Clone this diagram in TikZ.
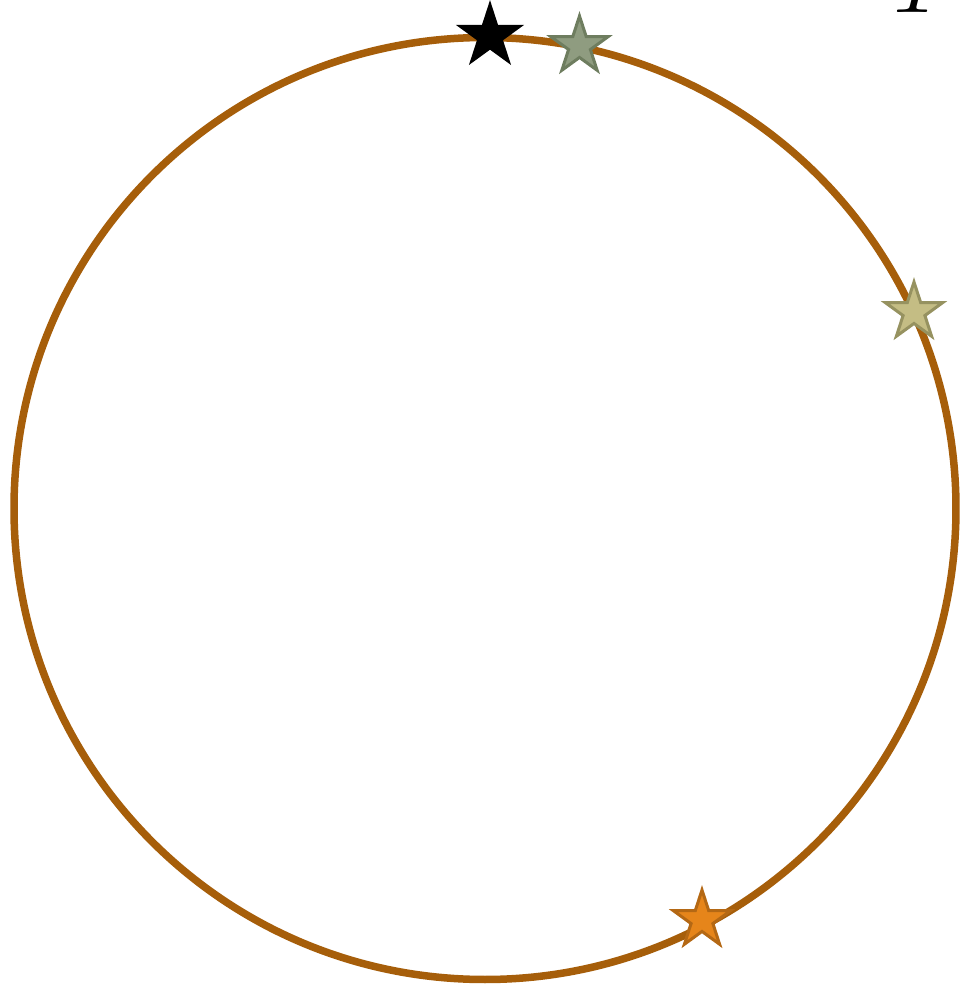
\documentclass[tikz,border=0pt]{standalone}
\usepackage{amsmath,amssymb}
\usepackage{tikz}
\usepackage{xcolor}
\usetikzlibrary{shapes.geometric}

\definecolor{ringbrown}{RGB}{166,94,10}
\definecolor{sagefill}{RGB}{143,156,128}
\definecolor{sageline}{RGB}{110,125,95}
\definecolor{khakifill}{RGB}{196,189,132}
\definecolor{khakiline}{RGB}{150,146,96}
\definecolor{amberfill}{RGB}{230,133,26}
\definecolor{amberline}{RGB}{180,104,20}

\begin{document}
\begin{tikzpicture}[
    starmark/.style={star, star points=5, star point ratio=2.618, inner sep=0pt,
        minimum size=0.6cm, line width=0.03cm}]
    \useasboundingbox (0,0) rectangle (9.62,9.86);

    % Orbit
    \coordinate (o) at (4.85,4.775);
    \draw[ringbrown, line width=0.075cm] (o) circle (4.71);

    % Stars on the orbit
    \node[starmark, fill=black, draw=black, minimum size=0.62cm] (s0) at (4.90,9.50) {};
    \node[starmark, fill=sagefill, draw=sageline] (s1) at (5.795,9.40) {};
    \node[starmark, fill=khakifill, draw=khakiline] (s2) at (9.14,6.74) {};
    \node[starmark, fill=amberfill, draw=amberline] (s3) at (7.02,0.66) {};

    % Label, cut off by the top edge
    \node[anchor=base, font=\fontsize{54}{60}\selectfont] (lbl) at (9.24,9.74) {$T$};
\end{tikzpicture}
\end{document}
